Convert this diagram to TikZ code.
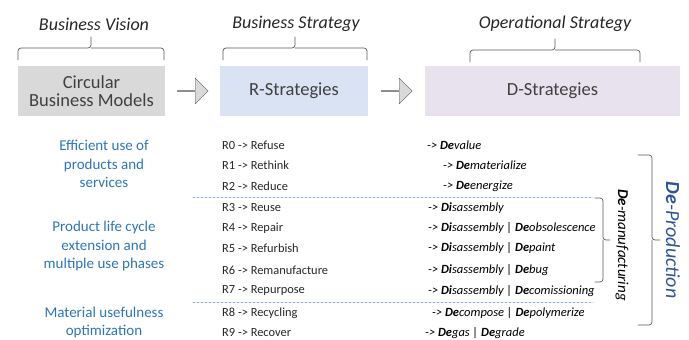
\documentclass[tikz,border=0pt]{standalone}
\usepackage{fontspec}
\setmainfont{Carlito}
\usepackage{pgf,tikz}
\usetikzlibrary{arrows}
\usetikzlibrary{positioning}
\usetikzlibrary{calc}
\usetikzlibrary{shapes.arrows}
\definecolor{txtgray}{HTML}{404040}
\definecolor{txtdark}{HTML}{262626}
\definecolor{boxgray}{HTML}{D9D9D9}
\definecolor{boxblue}{HTML}{DAE3F3}
\definecolor{boxlilac}{HTML}{E7E2EE}
\definecolor{goalblue}{HTML}{2E75B6}
\definecolor{prodblue}{HTML}{2F5597}
\definecolor{dashblue}{HTML}{8FAADC}
\definecolor{bracegray}{HTML}{595959}

\begin{document}
\begin{tikzpicture}[line cap=round,line join=round,x=1pt,y=1pt,
  title/.style={font=\fontsize{18}{20}\selectfont\itshape,text=txtdark},
  bigbox/.style={minimum height=50pt,inner sep=0pt,align=center,text=txtgray,font=\fontsize{18.5}{18.5}\selectfont},
  goal/.style={align=center,text=goalblue,font=\fontsize{15}{18.5}\selectfont},
  rrow/.style={anchor=west,inner sep=0pt,text=txtdark,font=\fontsize{12.4}{14}\selectfont},
  drow/.style={anchor=west,inner sep=0pt,text=black,font=\fontsize{12.5}{14}\selectfont\itshape},
  fatarrow/.style={single arrow,draw=bracegray,fill=boxgray,inner sep=0pt,minimum height=31pt,minimum width=26pt,single arrow head extend=6pt},
  brace/.style={draw=bracegray,rounded corners=3pt,line width=0.7pt},
  sep/.style={draw=dashblue,dash pattern=on 2pt off 2pt,line width=0.6pt}]
\useasboundingbox (0,0) rectangle (689,-340);
% headers
\node[title] (vision) at (94,-24) {Business Vision};
\node[title] (strategy) at (296,-24) {Business Strategy};
\node[title] (operational) at (555,-24) {Operational Strategy};
\draw[brace] (18,-60) |- (91,-48) -- (91,-37);
\draw[brace] (91,-48) -| (164,-60);
\draw[brace] (223,-60) |- (295,-48) -- (295,-37);
\draw[brace] (295,-48) -| (367,-60);
\draw[brace] (470,-62) |- (555,-50) -- (555,-39);
\draw[brace] (555,-50) -| (640,-62);
% boxes
\node[bigbox,fill=boxgray,minimum width=147pt] (cbm) at (91.5,-91) {Circular\\Business Models};
\node[bigbox,fill=boxblue,minimum width=148pt] (rstr) at (294,-91) {R-Strategies};
\node[bigbox,fill=boxlilac,minimum width=255pt] (dstr) at (552.5,-91) {D-Strategies};
\node[fatarrow] (arr1) at ($(cbm.east)!0.5!(rstr.west)$) {};
\node[fatarrow] (arr2) at ($(rstr.east)!0.5!(dstr.west)$) {};
% goals
\node[goal] (g1) at (104,-164) {Efficient use of\\products and\\services};
\node[goal] (g2) at (104,-246) {Product life cycle\\extension and\\multiple use phases};
\node[goal] (g3) at (104,-322.5) {Material usefulness\\optimization};
% R list
\node[rrow] (r0) at (222,-145) {R0 -> Refuse};
\node[rrow] (r1) at (222,-165) {R1 -> Rethink};
\node[rrow] (r2) at (222,-186) {R2 -> Reduce};
\node[rrow] (r3) at (222,-208) {R3 -> Reuse};
\node[rrow] (r4) at (222,-228) {R4 -> Repair};
\node[rrow] (r5) at (222,-248) {R5 -> Refurbish};
\node[rrow] (r6) at (222,-270) {R6 -> Remanufacture};
\node[rrow] (r7) at (222,-291) {R7 -> Repurpose};
\node[rrow] (r8) at (222,-313) {R8 -> Recycling};
\node[rrow] (r9) at (222,-333) {R9 -> Recover};
% D list
\node[drow] (d0) at (427,-145) {-> \textbf{De}value};
\node[drow] (d1) at (443,-165) {-> \textbf{De}materialize};
\node[drow] (d2) at (443,-186) {-> \textbf{De}energize};
\node[drow] (d3) at (428,-208) {-> \textbf{Di}sassembly};
\node[drow] (d4) at (428,-228) {-> \textbf{Di}sassembly | \textbf{De}obsolescence};
\node[drow] (d5) at (428,-248) {-> \textbf{Di}sassembly | \textbf{De}paint};
\node[drow] (d6) at (428,-270) {-> \textbf{Di}sassembly | \textbf{De}bug};
\node[drow] (d7) at (428,-291) {-> \textbf{Di}sassembly | \textbf{De}comissioning};
\node[drow] (d8) at (432,-313) {-> \textbf{De}compose | \textbf{De}polymerize};
\node[drow] (d9) at (425,-333) {-> \textbf{De}gas | \textbf{De}grade};
% separators
\draw[sep] (193,-197) -- (593,-197);
\draw[sep] (193,-302) -- (593,-302);
% side braces
\draw[brace] (595,-198) -| (603,-240) -- (610,-240);
\draw[brace] (603,-240) |- (595,-282);
\draw[brace] (638,-155) -| (652,-240) -- (660,-240);
\draw[brace] (652,-240) |- (638,-325);
\node[rotate=-90,font=\fontsize{15}{17}\selectfont\itshape] (deman) at (622,-245) {\textbf{De}-manufacturing};
\node[rotate=-90,text=prodblue,font=\fontsize{20}{22}\selectfont\itshape] (deprod) at (673,-240) {\textbf{De}-Production};
\end{tikzpicture}
\end{document}
